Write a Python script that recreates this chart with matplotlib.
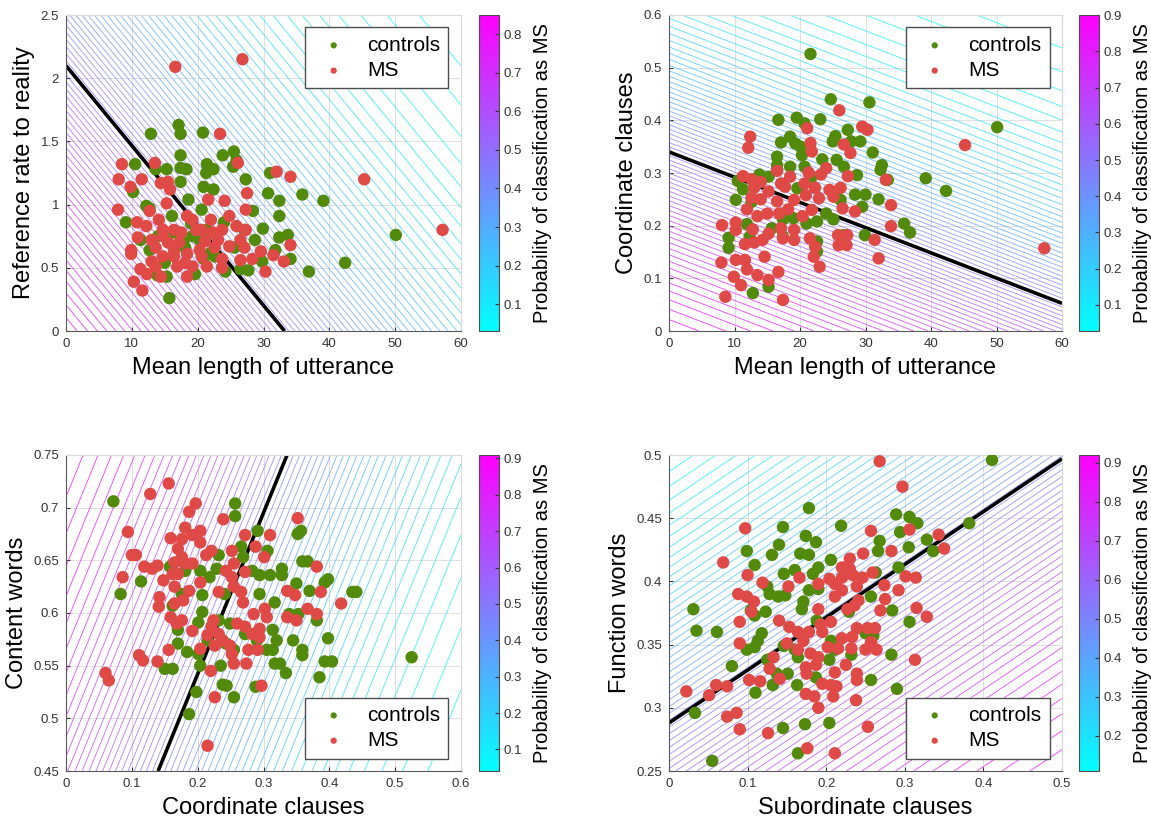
import numpy as np
import matplotlib
matplotlib.use("Agg")
import matplotlib.pyplot as plt
from matplotlib.ticker import MultipleLocator, FuncFormatter

plt.rcParams['font.family'] = ['Liberation Sans', 'DejaVu Sans']

# ---- panel 1: mean length of utterance vs reference rate ----
p1_ctrl_x = [17.1, 12.9, 17.4, 20.8, 17.4, 23.8, 25.5, 25.9, 25.4, 10.5,
             13.6, 15.3, 17.4, 18.3, 21.4, 22.4, 21.3, 27.3, 31.0, 17.4,
             20.9, 22.4, 10.2, 30.7, 35.9, 39.1, 32.4, 18.6, 20.6, 12.2,
             12.7, 32.4, 28.4, 9.1, 16.1, 24.0, 27.1, 29.9, 50.1, 32.4,
             33.7, 28.7, 19.2, 20.3, 18.1, 31.8, 25.6, 11.3, 12.7, 34.1,
             29.8, 42.4, 22.6, 26.5, 27.7, 24.2, 36.9, 19.6, 15.3, 13.9,
             15.7, 17.8, 16.4, 21.4, 20.9, 15.0, 19.0, 22.0, 14.0]
p1_ctrl_y = [1.63, 1.56, 1.56, 1.57, 1.39, 1.39, 1.42, 1.35, 1.30, 1.32,
             1.28, 1.28, 1.29, 1.28, 1.32, 1.28, 1.25, 1.20, 1.25, 1.18,
             1.14, 1.12, 1.10, 1.09, 1.08, 1.03, 1.03, 1.04, 0.96, 0.99,
             0.97, 0.91, 0.95, 0.86, 0.91, 0.86, 0.80, 0.81, 0.76, 0.74,
             0.76, 0.72, 0.75, 0.72, 0.66, 0.64, 0.66, 0.72, 0.64, 0.57,
             0.55, 0.54, 0.59, 0.49, 0.48, 0.47, 0.47, 0.45, 0.43, 0.44,
             0.26, 0.70, 0.78, 0.80, 0.57, 0.54, 0.85, 0.62, 0.75]
p1_ms_x = [16.6, 26.8, 23.4, 8.5, 13.5, 26.1, 8.0, 11.5, 9.8, 14.4,
           15.5, 15.8, 32.0, 34.1, 45.3, 27.5, 21.6, 24.1, 15.3, 7.9,
           12.7, 27.3, 57.2, 24.8, 22.0, 18.4, 19.2, 14.1, 10.8, 12.2,
           25.9, 16.4, 17.5, 20.6, 22.3, 23.7, 27.3, 10.9, 13.0, 14.7,
           15.5, 17.2, 21.1, 23.1, 26.5, 27.1, 34.1, 9.9, 9.9, 13.6,
           16.4, 20.3, 22.6, 24.8, 29.6, 31.5, 20.6, 18.4, 14.7, 13.0,
           23.7, 26.5, 28.3, 33.1, 11.3, 13.6, 16.9, 18.1, 19.2, 21.4,
           23.7, 16.4, 30.3, 12.3, 10.3, 11.6, 14.4, 18.4, 14.7, 19.8]
p1_ms_y = [2.09, 2.15, 1.56, 1.32, 1.33, 1.33, 1.20, 1.20, 1.14, 1.17,
           1.18, 1.12, 1.26, 1.22, 1.20, 1.09, 1.04, 1.03, 1.01, 0.96,
           0.95, 0.96, 0.80, 0.91, 0.88, 0.91, 0.88, 0.88, 0.86, 0.83,
           0.83, 0.80, 0.78, 0.80, 0.78, 0.80, 0.80, 0.74, 0.72, 0.75,
           0.70, 0.70, 0.71, 0.72, 0.72, 0.66, 0.68, 0.64, 0.61, 0.66,
           0.63, 0.64, 0.66, 0.67, 0.63, 0.60, 0.59, 0.61, 0.59, 0.55,
           0.57, 0.56, 0.57, 0.55, 0.49, 0.51, 0.51, 0.54, 0.51, 0.51,
           0.50, 0.59, 0.47, 0.45, 0.39, 0.32, 0.43, 0.43, 0.80, 0.80]

# ---- panel 2: mean length of utterance vs coordinate clauses ----
p2_ctrl_x = [21.6, 24.7, 30.6, 50.1, 16.7, 19.5, 20.7, 23.1, 27.3, 25.4,
             27.8, 29.2, 17.1, 18.5, 19.3, 20.1, 20.3, 25.0, 31.1, 16.5,
             23.4, 25.6, 26.7, 18.5, 16.5, 32.5, 32.3, 39.2, 42.3, 28.7,
             33.4, 21.8, 13.8, 15.2, 10.5, 10.2, 11.3, 12.6, 19.6, 28.4,
             30.0, 32.0, 29.5, 25.6, 26.2, 24.0, 22.6, 25.1, 35.9, 36.8,
             29.9, 26.6, 17.4, 19.0, 21.0, 15.7, 11.9, 12.3, 17.4, 22.6,
             22.6, 9.1, 9.1, 15.2, 12.8, 16.5, 20.7]
p2_ctrl_y = [0.526, 0.440, 0.434, 0.387, 0.401, 0.405, 0.394, 0.402, 0.382, 0.370,
             0.360, 0.360, 0.358, 0.369, 0.356, 0.350, 0.334, 0.360, 0.339, 0.331,
             0.326, 0.325, 0.312, 0.312, 0.315, 0.315, 0.306, 0.290, 0.266, 0.296,
             0.287, 0.293, 0.297, 0.293, 0.285, 0.249, 0.269, 0.245, 0.271, 0.259,
             0.259, 0.250, 0.236, 0.265, 0.249, 0.223, 0.208, 0.212, 0.204, 0.187,
             0.182, 0.182, 0.212, 0.214, 0.204, 0.195, 0.203, 0.179, 0.179, 0.170,
             0.151, 0.177, 0.158, 0.084, 0.072, 0.306, 0.312]
p2_ms_x = [26.0, 12.4, 12.1, 21.1, 29.5, 30.3, 21.6, 21.8, 26.7, 27.7,
           45.2, 27.3, 24.0, 23.2, 21.3, 16.5, 18.5, 33.1, 11.3, 12.6,
           14.0, 13.0, 15.2, 17.1, 17.7, 20.7, 22.3, 24.5, 26.2, 25.1,
           22.9, 20.9, 19.1, 16.5, 14.0, 12.6, 33.9, 28.4, 26.5, 21.8,
           20.4, 18.2, 16.8, 15.0, 13.5, 11.9, 10.2, 10.2, 8.1, 33.9,
           31.4, 32.0, 57.3, 25.8, 27.2, 25.9, 27.1, 19.1, 17.1, 15.2,
           12.8, 14.3, 13.0, 11.6, 17.4, 19.1, 21.5, 22.3, 22.1, 23.0,
           10.2, 8.0, 11.6, 14.6, 11.9, 13.5, 16.7, 9.9, 11.0, 15.2,
           8.6, 17.4]
p2_ms_y = [0.419, 0.369, 0.348, 0.385, 0.388, 0.382, 0.357, 0.341, 0.354, 0.338,
           0.353, 0.294, 0.309, 0.297, 0.301, 0.304, 0.293, 0.287, 0.294, 0.288,
           0.283, 0.272, 0.265, 0.280, 0.274, 0.280, 0.272, 0.268, 0.272, 0.255,
           0.252, 0.258, 0.249, 0.246, 0.250, 0.253, 0.239, 0.227, 0.233, 0.230,
           0.218, 0.231, 0.223, 0.223, 0.218, 0.231, 0.206, 0.192, 0.201, 0.199,
           0.173, 0.138, 0.157, 0.182, 0.182, 0.163, 0.163, 0.192, 0.195, 0.185,
           0.193, 0.173, 0.168, 0.165, 0.176, 0.173, 0.176, 0.160, 0.141, 0.122,
           0.135, 0.130, 0.135, 0.141, 0.117, 0.106, 0.112, 0.103, 0.087, 0.097,
           0.065, 0.059]

# ---- panel 3: coordinate clauses vs content words ----
p3_ctrl_x = [0.072, 0.257, 0.257, 0.291, 0.352, 0.357, 0.306, 0.266, 0.269, 0.232,
             0.359, 0.367, 0.328, 0.328, 0.310, 0.294, 0.283, 0.229, 0.218, 0.204,
             0.181, 0.158, 0.398, 0.393, 0.114, 0.083, 0.435, 0.441, 0.370, 0.350,
             0.294, 0.317, 0.241, 0.207, 0.176, 0.162, 0.207, 0.201, 0.232, 0.249,
             0.339, 0.353, 0.381, 0.398, 0.345, 0.359, 0.359, 0.320, 0.314, 0.314,
             0.317, 0.325, 0.334, 0.393, 0.404, 0.385, 0.525, 0.272, 0.290, 0.243,
             0.215, 0.170, 0.184, 0.201, 0.204, 0.150, 0.162, 0.235, 0.238, 0.244,
             0.255, 0.288, 0.198, 0.187, 0.255, 0.305, 0.170]
p3_ctrl_y = [0.706, 0.704, 0.692, 0.678, 0.675, 0.678, 0.659, 0.663, 0.653, 0.655,
             0.649, 0.649, 0.642, 0.636, 0.636, 0.636, 0.640, 0.642, 0.634, 0.640,
             0.640, 0.644, 0.632, 0.629, 0.630, 0.618, 0.620, 0.620, 0.621, 0.628,
             0.618, 0.610, 0.618, 0.617, 0.618, 0.607, 0.601, 0.591, 0.593, 0.590,
             0.599, 0.599, 0.593, 0.576, 0.574, 0.565, 0.560, 0.574, 0.584, 0.565,
             0.552, 0.552, 0.543, 0.554, 0.554, 0.539, 0.558, 0.580, 0.574, 0.571,
             0.574, 0.571, 0.563, 0.561, 0.550, 0.547, 0.547, 0.550, 0.532, 0.531,
             0.520, 0.530, 0.525, 0.504, 0.565, 0.565, 0.584]
p3_ms_x = [0.156, 0.128, 0.197, 0.187, 0.239, 0.352, 0.094, 0.204, 0.192, 0.181,
           0.159, 0.176, 0.204, 0.272, 0.310, 0.288, 0.301, 0.221, 0.213, 0.252,
           0.100, 0.106, 0.170, 0.176, 0.165, 0.181, 0.192, 0.119, 0.131, 0.139,
           0.255, 0.381, 0.243, 0.252, 0.272, 0.148, 0.086, 0.162, 0.170, 0.204,
           0.255, 0.232, 0.266, 0.336, 0.348, 0.387, 0.418, 0.367, 0.381, 0.142,
           0.165, 0.187, 0.178, 0.141, 0.165, 0.269, 0.302, 0.336, 0.350, 0.285,
           0.305, 0.159, 0.176, 0.168, 0.192, 0.224, 0.221, 0.260, 0.272, 0.294,
           0.283, 0.294, 0.215, 0.232, 0.238, 0.226, 0.249, 0.204, 0.277, 0.291,
           0.111, 0.117, 0.139, 0.156, 0.252, 0.255, 0.274, 0.220, 0.060, 0.065,
           0.226, 0.297, 0.215]
p3_ms_y = [0.723, 0.713, 0.704, 0.696, 0.689, 0.690, 0.677, 0.678, 0.674, 0.681,
           0.671, 0.670, 0.667, 0.674, 0.674, 0.663, 0.653, 0.659, 0.655, 0.659,
           0.655, 0.655, 0.661, 0.653, 0.648, 0.647, 0.647, 0.644, 0.642, 0.645,
           0.647, 0.644, 0.640, 0.634, 0.639, 0.631, 0.634, 0.637, 0.637, 0.629,
           0.625, 0.620, 0.620, 0.621, 0.617, 0.620, 0.609, 0.604, 0.599, 0.615,
           0.625, 0.621, 0.612, 0.606, 0.609, 0.610, 0.604, 0.596, 0.593, 0.599,
           0.596, 0.596, 0.593, 0.590, 0.583, 0.593, 0.587, 0.590, 0.587, 0.585,
           0.580, 0.577, 0.579, 0.580, 0.574, 0.569, 0.569, 0.566, 0.565, 0.565,
           0.560, 0.555, 0.554, 0.565, 0.561, 0.552, 0.552, 0.545, 0.543, 0.536,
           0.520, 0.531, 0.474]

# ---- panel 4: subordinate clauses vs function words ----
p4_ctrl_x = [0.411, 0.178, 0.289, 0.306, 0.316, 0.382, 0.219, 0.145, 0.294, 0.099,
             0.174, 0.140, 0.187, 0.268, 0.328, 0.336, 0.305, 0.266, 0.167, 0.178,
             0.131, 0.109, 0.206, 0.160, 0.190, 0.183, 0.146, 0.292, 0.263, 0.125,
             0.128, 0.139, 0.148, 0.178, 0.171, 0.169, 0.190, 0.257, 0.284, 0.306,
             0.031, 0.035, 0.061, 0.104, 0.109, 0.123, 0.188, 0.229, 0.118, 0.113,
             0.099, 0.109, 0.146, 0.160, 0.164, 0.206, 0.211, 0.204, 0.232, 0.260,
             0.283, 0.125, 0.137, 0.132, 0.141, 0.151, 0.187, 0.163, 0.257, 0.110,
             0.290, 0.250, 0.080, 0.033, 0.145, 0.173, 0.204, 0.164, 0.055]
p4_ctrl_y = [0.496, 0.458, 0.453, 0.451, 0.446, 0.446, 0.444, 0.443, 0.439, 0.424,
             0.436, 0.429, 0.431, 0.432, 0.433, 0.424, 0.427, 0.424, 0.422, 0.421,
             0.421, 0.413, 0.417, 0.409, 0.411, 0.406, 0.406, 0.411, 0.407, 0.396,
             0.390, 0.388, 0.389, 0.393, 0.384, 0.378, 0.394, 0.388, 0.377, 0.368,
             0.378, 0.361, 0.360, 0.377, 0.373, 0.376, 0.369, 0.376, 0.359, 0.353,
             0.346, 0.348, 0.349, 0.346, 0.340, 0.353, 0.346, 0.338, 0.342, 0.357,
             0.342, 0.338, 0.327, 0.318, 0.324, 0.327, 0.324, 0.318, 0.322, 0.312,
             0.315, 0.359, 0.333, 0.296, 0.284, 0.287, 0.288, 0.264, 0.258]
p4_ms_x = [0.268, 0.297, 0.097, 0.257, 0.306, 0.343, 0.350, 0.069, 0.247, 0.283,
           0.230, 0.220, 0.230, 0.220, 0.234, 0.246, 0.259, 0.301, 0.314, 0.100,
           0.166, 0.119, 0.204, 0.211, 0.190, 0.152, 0.220, 0.239, 0.274, 0.292,
           0.088, 0.099, 0.108, 0.211, 0.241, 0.236, 0.275, 0.315, 0.328, 0.105,
           0.227, 0.269, 0.190, 0.090, 0.140, 0.153, 0.193, 0.206, 0.239, 0.253,
           0.262, 0.164, 0.178, 0.195, 0.233, 0.220, 0.090, 0.150, 0.171, 0.202,
           0.215, 0.232, 0.250, 0.264, 0.257, 0.164, 0.180, 0.190, 0.313, 0.133,
           0.128, 0.174, 0.187, 0.225, 0.175, 0.211, 0.239, 0.239, 0.116, 0.102,
           0.141, 0.174, 0.185, 0.195, 0.206, 0.213, 0.209, 0.238, 0.190, 0.022,
           0.051, 0.060, 0.074, 0.074, 0.086, 0.090, 0.126, 0.253, 0.176, 0.211]
p4_ms_y = [0.495, 0.475, 0.442, 0.440, 0.441, 0.437, 0.426, 0.415, 0.422, 0.424,
           0.418, 0.411, 0.410, 0.403, 0.405, 0.403, 0.407, 0.404, 0.403, 0.405,
           0.403, 0.399, 0.402, 0.398, 0.398, 0.396, 0.393, 0.396, 0.397, 0.393,
           0.390, 0.388, 0.384, 0.388, 0.385, 0.381, 0.386, 0.379, 0.372, 0.376,
           0.378, 0.377, 0.378, 0.368, 0.369, 0.364, 0.366, 0.368, 0.363, 0.363,
           0.363, 0.360, 0.360, 0.360, 0.356, 0.355, 0.351, 0.351, 0.353, 0.348,
           0.347, 0.347, 0.346, 0.346, 0.352, 0.346, 0.343, 0.340, 0.338, 0.340,
           0.331, 0.332, 0.334, 0.334, 0.327, 0.328, 0.327, 0.322, 0.321, 0.322,
           0.323, 0.311, 0.309, 0.319, 0.318, 0.317, 0.309, 0.306, 0.300, 0.313,
           0.310, 0.318, 0.317, 0.293, 0.296, 0.283, 0.280, 0.285, 0.268, 0.264]

# logistic model coefficients (intercept, x, y) for each panel
coef1 = (1.73, -0.0521, -0.824)
coef2 = (2.20, -0.031, -6.47)
coef3 = (-1.058, -6.875, 4.489)
coef4 = (2.840, 4.121, -9.86)

xlabels = ['Mean length of utterance', 'Mean length of utterance',
           'Coordinate clauses', 'Subordinate clauses']
ylabels = ['Reference rate to reality', 'Coordinate clauses',
           'Content words', 'Function words']
xlims = [(0, 60), (0, 60), (0, 0.6), (0, 0.5)]
ylims = [(0, 2.5), (0, 0.6), (0.45, 0.75), (0.25, 0.5)]
xsteps = [10, 10, 0.1, 0.1]
ysteps = [0.5, 0.1, 0.05, 0.05]
n_levels = [72, 66, 56, 62]
legend_locs = ['upper right', 'upper right', 'lower right', 'lower right']

GREEN = '#528a0c'
RED = '#e04a46'

W, H = 1151, 824
fig = plt.figure(figsize=(W / 100, H / 100), dpi=100)

# pixel boxes: (left, top, right, bottom) of axes, colorbar x-range
ax_boxes = [(66, 15, 461, 331), (669, 15, 1062, 331),
            (66, 455, 461, 771), (669, 455, 1062, 771)]
cb_boxes = [(479, 499), (1079, 1099), (479, 499), (1079, 1099)]

fmt = FuncFormatter(lambda v, pos: f'{round(v, 4):g}')

panels = [
    (p1_ctrl_x, p1_ctrl_y, p1_ms_x, p1_ms_y, coef1),
    (p2_ctrl_x, p2_ctrl_y, p2_ms_x, p2_ms_y, coef2),
    (p3_ctrl_x, p3_ctrl_y, p3_ms_x, p3_ms_y, coef3),
    (p4_ctrl_x, p4_ctrl_y, p4_ms_x, p4_ms_y, coef4),
]

for i, (cx, cy, mx, my, coef) in enumerate(panels):
    l, t, r, b = ax_boxes[i]
    ax = fig.add_axes([l / W, 1 - b / H, (r - l) / W, (b - t) / H])
    cl, cr = cb_boxes[i]
    cax = fig.add_axes([cl / W, 1 - b / H, (cr - cl) / W, (b - t) / H])

    gx = np.linspace(*xlims[i], 300)
    gy = np.linspace(*ylims[i], 300)
    X, Y = np.meshgrid(gx, gy)
    Z = coef[0] + coef[1] * X + coef[2] * Y
    P = 1 / (1 + np.exp(-Z))
    levels = np.linspace(P.min(), P.max(), n_levels[i])
    norm = plt.Normalize(P.min(), P.max())
    ax.contour(X, Y, P, levels=levels, cmap='cool', norm=norm,
               linewidths=0.6, alpha=0.8, zorder=1)
    ax.contour(X, Y, P, levels=[0.5], colors='k', linewidths=2.6, zorder=2)

    ax.scatter(cx, cy, s=80, color=GREEN, edgecolors='none', zorder=3,
               label='controls')
    ax.scatter(mx, my, s=80, color=RED, edgecolors='none', zorder=4,
               label='MS')

    ax.set_xlim(*xlims[i])
    ax.set_ylim(*ylims[i])
    ax.xaxis.set_major_locator(MultipleLocator(xsteps[i]))
    ax.yaxis.set_major_locator(MultipleLocator(ysteps[i]))
    ax.xaxis.set_major_formatter(fmt)
    ax.yaxis.set_major_formatter(fmt)
    ax.grid(True, color='0.88', linewidth=0.7)
    ax.set_axisbelow(True)
    ax.tick_params(direction='in', length=3, labelsize=9.5, colors='0.2',
                   pad=5)
    for side in ['left', 'bottom']:
        ax.spines[side].set_color('0.35')
        ax.spines[side].set_linewidth(0.8)
    for side in ['top', 'right']:
        ax.spines[side].set_color('0.85')
        ax.spines[side].set_linewidth(0.8)
    ax.set_xlabel(xlabels[i], fontsize=17, labelpad=5)
    ax.set_ylabel(ylabels[i], fontsize=17, labelpad=4)

    leg = ax.legend(loc=legend_locs[i], fontsize=15, markerscale=0.5,
                    fancybox=False, framealpha=1, edgecolor='0.3',
                    handletextpad=0.6, borderpad=0.4, labelspacing=0.3,
                    borderaxespad=0.6)
    leg.get_frame().set_linewidth(1.0)

    sm = plt.cm.ScalarMappable(cmap='cool', norm=norm)
    cb = fig.colorbar(sm, cax=cax)
    cb.locator = MultipleLocator(0.1)
    cb.formatter = fmt
    cb.update_ticks()
    cb.outline.set_edgecolor('0.3')
    cb.outline.set_linewidth(0.8)
    cax.tick_params(direction='in', length=3, labelsize=9.5, colors='0.2')
    cb.set_label('Probability of classification as MS', fontsize=14.5,
                 labelpad=8)

fig.savefig('out.png', dpi=100)
